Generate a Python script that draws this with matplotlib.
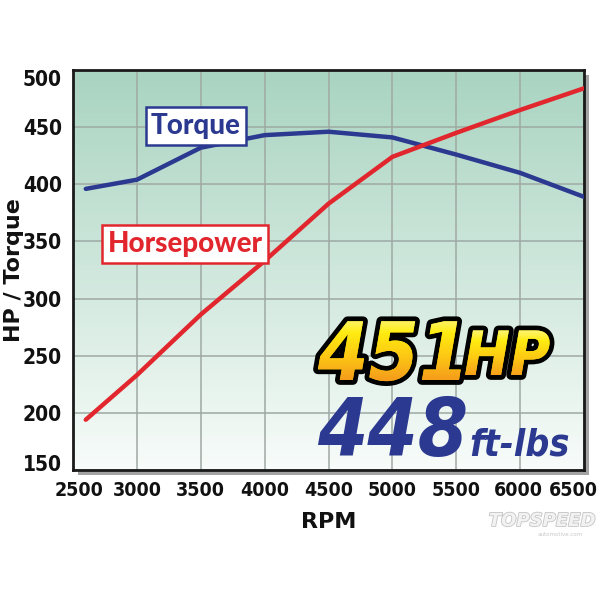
import numpy as np
import matplotlib
matplotlib.use("Agg")
import matplotlib.pyplot as plt
from matplotlib.colors import LinearSegmentedColormap
from matplotlib.patches import Rectangle, PathPatch
from matplotlib.transforms import Affine2D, ScaledTranslation
from matplotlib.textpath import TextPath
from matplotlib.font_manager import FontProperties
import matplotlib.patheffects as pe

# dyno data
rpm = [2600, 3000, 3500, 4000, 4500, 5000, 5500, 6000, 6500]
torque = [396, 404, 432, 443, 446, 441, 426, 410, 389]
hp = [194, 233, 286, 333, 383, 424, 445, 465, 484]

x_ticks = [2500, 3000, 3500, 4000, 4500, 5000, 5500, 6000, 6500]
y_ticks = [150, 200, 250, 300, 350, 400, 450, 500]

blue = '#2b3990'
red = '#e2262d'
narrow = dict(fontfamily='DejaVu Sans', fontstretch='condensed', fontweight='bold')

W = 600.0


def fx(px):
    return px / W


def fy(py):
    return 1 - py / W


fig = plt.figure(figsize=(6, 6), dpi=100)
fig.patch.set_facecolor('white')

# drop shadow behind the plot frame
shadow = Rectangle((fx(78), fy(475)), 511 / W, 400 / W, transform=fig.transFigure,
                   fc='#a3a3a3', ec='none', zorder=-5)
fig.patches.append(shadow)

ax = fig.add_axes([fx(73), fy(470), 511 / W, 400 / W])

# gradient background
grad = np.linspace(0, 1, 256).reshape(-1, 1)
bg = LinearSegmentedColormap.from_list('bg', ['#f8fcfa', '#cfe7dc', '#a9d4c1'])
ax.imshow(grad, extent=[2500, 6500, 150, 500], aspect='auto', cmap=bg,
          origin='lower', zorder=0)

ax.set_xlim(2500, 6500)
ax.set_ylim(150, 500)
ax.set_axisbelow(True)
ax.grid(True, color='#9fa9a4', linewidth=1.1)

ax.plot(rpm, torque, color=blue, linewidth=3.2, solid_capstyle='round', zorder=3)
ax.plot(rpm, hp, color=red, linewidth=3.2, solid_capstyle='round', zorder=3)

ax.set_xticks(x_ticks, labels=[str(v) for v in x_ticks], fontsize=14, **narrow)
ax.set_yticks(y_ticks, labels=[str(v) for v in y_ticks], fontsize=15, **narrow)
ax.tick_params(length=0, pad=8, colors='#111111')
for s in ax.spines.values():
    s.set_linewidth(2)
    s.set_color('#1a1a1a')


def nudge(lbl, dx, dy):
    lbl.set_transform(lbl.get_transform() +
                      ScaledTranslation(dx / 100, dy / 100, fig.dpi_scale_trans))


xl = ax.get_xticklabels()
nudge(xl[0], 6, 0)
nudge(xl[-1], -11, 0)
nudge(xl[-2], -2, 0)
yl = ax.get_yticklabels()
nudge(yl[0], 0, 7)
nudge(yl[-1], 0, -8)

fig.text(fx(14), fy(270), 'HP / Torque', rotation=90, ha='center', va='center',
         fontfamily='DejaVu Sans', fontweight='bold', fontsize=16, color='#111111')
fig.text(fx(329), fy(522), 'RPM', ha='center', va='center',
         fontfamily='DejaVu Sans', fontweight='bold', fontsize=16, color='#111111')

# series labels
fig.text(fx(196), fy(126), 'Torque', ha='center', va='center', fontfamily='Lato',
         fontweight='black', fontsize=20, color=blue,
         bbox=dict(boxstyle='square,pad=0.2', fc='white', ec=blue, lw=1.8))
fig.text(fx(185), fy(244), 'Horsepower', ha='center', va='center', fontfamily='Lato',
         fontweight='black', fontsize=20, color=red,
         bbox=dict(boxstyle='square,pad=0.2', fc='white', ec=red, lw=1.8))

# overlay used for the gradient fill of the yellow numbers
over = fig.add_axes([0, 0, 1, 1], zorder=5)
over.set_axis_off()
over.patch.set_alpha(0)
yel = LinearSegmentedColormap.from_list('yel', ['#fffbc2', '#ffec10', '#fdc614', '#f5981c'])


def gradient_text(x, y, s, size, top, bottom):
    fig.text(fx(x), fy(y), s, ha='left', va='baseline', style='italic', fontsize=size,
             color='#ffe000', zorder=3,
             path_effects=[pe.withStroke(linewidth=7, foreground='black')], **narrow)
    fp = FontProperties(family='DejaVu Sans', stretch='condensed', weight='bold',
                        style='italic', size=size)
    tp = TextPath((0, 0), s, prop=fp)
    tr = Affine2D().scale(100 / 72).translate(x, W - y).scale(1 / W) + fig.transFigure
    clip = PathPatch(tp, transform=tr, fc='none', ec='none')
    g = np.linspace(0, 1, 200).reshape(-1, 1)
    im = over.imshow(g, cmap=yel, extent=[x - 10, x + 220, W - bottom, W - top],
                     origin='upper', aspect='auto')
    im.set_clip_path(clip)


gradient_text(318, 380, '451', 58, 308, 382)
gradient_text(464, 375, 'HP', 44, 322, 378)
over.set_xlim(0, W)
over.set_ylim(0, W)

fig.text(fx(317), fy(456), '448', ha='left', va='baseline', style='italic',
         fontsize=58, color=blue, **narrow)
fig.text(fx(469), fy(455), 'ft-lbs', ha='left', va='baseline', style='italic',
         fontsize=27, color=blue, **narrow)

# watermark
fig.text(fx(542), fy(521), 'TOPSPEED', ha='center', va='center', fontfamily='DejaVu Sans',
         fontweight='bold', style='italic', fontsize=13, color='#f2f2f2',
         path_effects=[pe.withStroke(linewidth=1.2, foreground='#c4c4c4')])
fig.text(fx(560), fy(534), 'automotive.com', ha='center', va='center', fontsize=4,
         color='#c8c8c8')

fig.savefig('out.png', dpi=100)
